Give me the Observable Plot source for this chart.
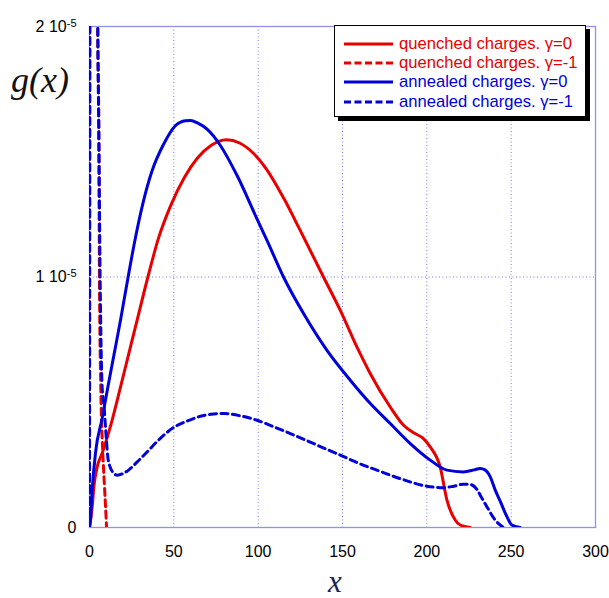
<!DOCTYPE html>
<html>
<head>
<meta charset="utf-8">
<script src="https://cdn.jsdelivr.net/npm/d3@7"></script>
<script src="https://cdn.jsdelivr.net/npm/@observablehq/plot@0.6"></script>
<style>
  html, body { margin: 0; padding: 0; background: #fff; }
  #wrap { position: relative; width: 609px; height: 598px; overflow: hidden; font-family: "Liberation Sans", Arial, sans-serif; }
  #wrap svg { position: absolute; left: 0; top: 0; }
  .ylab { position: absolute; left: 11px; top: 62px; font-family: "Liberation Serif", "Times New Roman", serif; font-style: italic; font-size: 36px; color: #111; line-height: 1; }
  .xlab { position: absolute; left: 328px; top: 566px; font-family: "Liberation Serif", "Times New Roman", serif; font-style: italic; font-size: 31px; color: #1c2050; line-height: 1; }
  #legend { position: absolute; left: 334px; top: 25px; width: 252px; height: 92px; box-sizing: border-box; border: 1.5px solid #000; background: #fff; box-shadow: 4px 4px 0 #000; }
  #legend .row { position: absolute; left: 9px; height: 19px; display: flex; align-items: center; font-size: 16.6px; white-space: nowrap; }
  #legend .row svg { position: static; margin-right: 6px; flex: none; }
</style>
</head>
<body>
<div id="wrap"></div>
<script>
// ---- data (y values in units of 1e-5) ----
const yUnit = 1e-5;
const xTicks = [0, 50, 100, 150, 200, 250, 300];
const yTicks = [0, 1, 2];
const gridXTicks = [50, 100, 150, 200, 250];
const gridYTicks = [1];

const seriesNames = ["quenched charges. γ=0", "quenched charges. γ=-1", "annealed charges. γ=0", "annealed charges. γ=-1"];
const seriesColors = ["#e80000", "#e80000", "#0000d8", "#0000d8"];
const seriesDashed = [false, true, false, true];

const quenched0X = [0, 1.6, 2.6, 4.5, 7.5, 13.4, 18.4, 23.3, 28.2, 34.7, 41.1, 48, 56.5, 64, 72, 81.2, 89, 97, 105, 115.1, 125, 138.8, 148.7, 158.6, 166.5, 178.3, 186.2, 193, 198, 202, 207.9, 211.9, 216.8, 219.8, 225.7];
const quenched0Y = [0, 0.083, 0.163, 0.24, 0.296, 0.428, 0.561, 0.694, 0.827, 1.002, 1.159, 1.283, 1.40, 1.475, 1.525, 1.548, 1.535, 1.495, 1.43, 1.315, 1.185, 0.999, 0.867, 0.72, 0.614, 0.481, 0.408, 0.375, 0.355, 0.322, 0.242, 0.11, 0.03, 0.01, 0];

const quenchedM1X = [0, 0.3, 2.5, 4.6, 4.9, 5.5, 5.9, 6.7, 7.9, 8.9, 9.9, 10.1];
const quenchedM1Y = [0, 3, 6, 2.4, 2.0, 1.6, 1.0, 0.56, 0.296, 0.163, 0.03, 0];

const annealed0X = [0, 0.6, 1.6, 3.6, 7.5, 11, 14.7, 18.4, 22.9, 27.3, 31.6, 37.1, 44, 50.9, 56.9, 60, 64, 69.7, 77.6, 87.5, 99.3, 105.3, 115.1, 127, 140.8, 154.6, 166.5, 178.3, 190.2, 202, 211.9, 221.7, 228, 231.6, 234.5, 237.6, 240.5, 243.5, 247, 250.4, 255.3];
const annealed0Y = [0, 0.03, 0.15, 0.3, 0.435, 0.565, 0.696, 0.828, 1.0, 1.159, 1.292, 1.424, 1.531, 1.604, 1.624, 1.625, 1.615, 1.59, 1.525, 1.405, 1.232, 1.145, 0.999, 0.853, 0.707, 0.588, 0.495, 0.415, 0.335, 0.269, 0.229, 0.222, 0.23, 0.236, 0.23, 0.202, 0.15, 0.105, 0.05, 0.01, 0];

const annealedM1X = [0, 0.25, 2.5, 4.6, 4.9, 5.5, 6.3, 7.5, 8.5, 9.9, 11.1, 14.4, 16.4, 22.3, 28.3, 34.2, 41.1, 50, 57.9, 65.8, 72, 79.6, 90, 99.3, 110, 119.1, 134.9, 150, 160, 170.4, 184.2, 200, 210, 216, 221.7, 225.7, 229.7, 232, 235.6, 240.5, 245.4];
const annealedM1Y = [0, 2.5, 6, 2.4, 2.0, 1.6, 1.0, 0.56, 0.495, 0.362, 0.269, 0.216, 0.209, 0.225, 0.262, 0.302, 0.35, 0.4, 0.425, 0.444, 0.452, 0.455, 0.445, 0.428, 0.4, 0.375, 0.329, 0.285, 0.255, 0.229, 0.195, 0.165, 0.159, 0.165, 0.173, 0.172, 0.152, 0.125, 0.083, 0.03, 0];

const seriesX = [quenched0X, quenchedM1X, annealed0X, annealedM1X];
const seriesY = [quenched0Y, quenchedM1Y, annealed0Y, annealedM1Y];

// ---- build table ----
const tables = seriesX.map((xs, i) => xs.map((x, j) => ({x, y: seriesY[i][j] * yUnit, s: seriesNames[i]})));

const dash = "7,4.5";
const gridColor = "#7878ee";
const frameColor = "#9090f0";

const lineMarks = tables.map((t, i) => Plot.line(t, {
  x: "x", y: "y",
  stroke: seriesColors[i],
  strokeWidth: 3,
  strokeDasharray: seriesDashed[i] ? dash : null,
  curve: "monotone-x",
  clip: true
}));

const chart = Plot.plot({
  width: 609,
  height: 598,
  marginLeft: 89,
  marginRight: 14,
  marginTop: 26,
  marginBottom: 71,
  style: {fontFamily: "'Liberation Sans', Arial, sans-serif", fontSize: "16px", color: "#000", background: "transparent"},
  x: {domain: [0, 300]},
  y: {domain: [0, 2 * yUnit]},
  marks: [
    Plot.gridX(gridXTicks, {stroke: gridColor, strokeOpacity: 1, strokeDasharray: "1,2.5", strokeWidth: 1}),
    Plot.gridY(gridYTicks.map(v => v * yUnit), {stroke: gridColor, strokeOpacity: 1, strokeDasharray: "1,2.5", strokeWidth: 1}),
    Plot.frame({stroke: frameColor, strokeWidth: 1.3}),
    ...lineMarks,
    Plot.axisX(xTicks, {tickSize: 0, tickPadding: 18, label: null, tickFormat: d => String(d)}),
    Plot.axisY(yTicks.map(v => v * yUnit), {
      tickSize: 0, tickPadding: 13, label: null,
      tickFormat: d => d === 0 ? "0" : `${Math.round(d / yUnit)} 10`
    })
  ]
});

const wrap = document.getElementById("wrap");
wrap.appendChild(chart);

// tick label size and superscript exponent on y tick labels
chart.querySelectorAll('g[aria-label="x-axis tick label"] text, g[aria-label="y-axis tick label"] text').forEach(t => {
  t.setAttribute("font-size", "16");
  t.style.fontSize = "16px";
});
chart.querySelectorAll('g[aria-label="y-axis tick label"] text').forEach(t => {
  if (t.textContent.trim() !== "0") {
    const ts = document.createElementNS("http://www.w3.org/2000/svg", "tspan");
    ts.setAttribute("dy", "-0.45em");
    ts.style.fontSize = "11px";
    ts.textContent = "-5";
    t.appendChild(ts);
  }
});

// axis titles
const yl = document.createElement("div");
yl.className = "ylab"; yl.textContent = "g(x)";
wrap.appendChild(yl);
const xl = document.createElement("div");
xl.className = "xlab"; xl.textContent = "x";
wrap.appendChild(xl);

// legend
const leg = document.createElement("div");
leg.id = "legend";
seriesNames.forEach((name, i) => {
  const row = document.createElement("div");
  row.className = "row";
  row.style.top = (8 + i * 19.4) + "px";
  row.style.color = seriesColors[i];
  row.innerHTML = `<svg width="49" height="6"><line x1="0" y1="3" x2="49" y2="3" stroke="${seriesColors[i]}" stroke-width="3" ${seriesDashed[i] ? 'stroke-dasharray="7,3.5"' : ''}/></svg><span>${name}</span>`;
  leg.appendChild(row);
});
wrap.appendChild(leg);
</script>
</body>
</html>
